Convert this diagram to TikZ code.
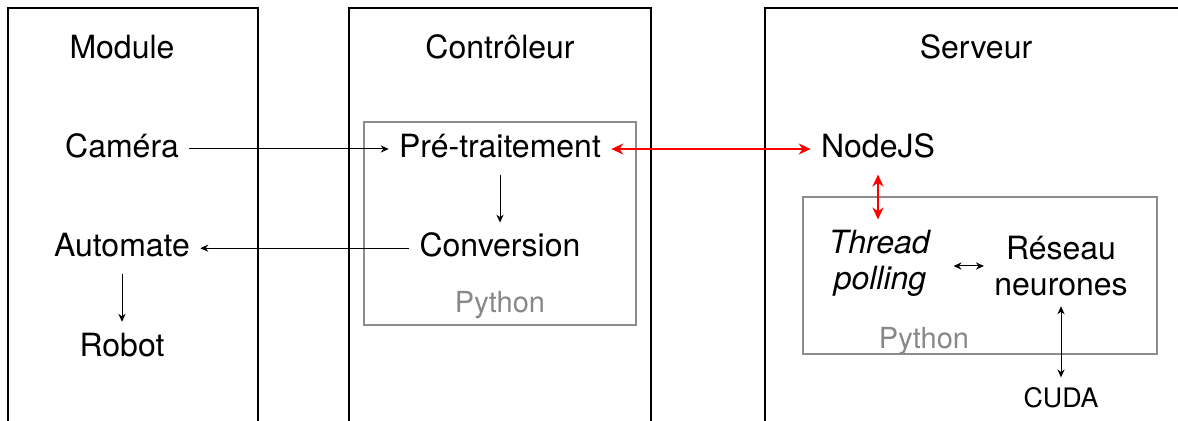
\documentclass[tikz,border=0pt]{standalone}
\usepackage{fontspec}
\setmainfont{TeX Gyre Heros}
\usetikzlibrary{positioning, arrows.meta}
\definecolor{pyframe}{HTML}{8C8C8C}
\definecolor{pytext}{HTML}{888888}

\begin{document}
\begin{tikzpicture}[x=0.5pt, y=-0.5pt, node distance=24pt,
    lbl/.style={font=\fontsize{16}{18}\selectfont, inner sep=5pt},
    item/.style={lbl, text height=12pt, text depth=3.2pt},
    pylbl/.style={font=\fontsize{14.5}{16}\selectfont, text=pytext, inner sep=0pt},
    link/.style={-{Stealth[length=4pt, width=3.6pt]}, line width=0.5pt},
    wire/.style={{Stealth[length=4pt, width=3.6pt]}-{Stealth[length=4pt, width=3.6pt]}, line width=0.5pt},
    redwire/.style={{Stealth[length=6pt, width=5.5pt]}-{Stealth[length=6pt, width=5.5pt]}, red, line width=1pt}]
        \useasboundingbox (0,0) rectangle (1178,421);
        % columns
        \draw[line width=0.6pt] (8,421) |- (258,8) -- (258,421);
        \draw[line width=0.6pt] (349,421) |- (651,8) -- (651,421);
        \draw[line width=0.6pt] (765,421) |- (1178,8);
        % python frames
        \draw[pyframe, line width=0.7pt] (364,122) rectangle (636,325);
        \draw[pyframe, line width=0.7pt] (803,197) rectangle (1157,354);
        % module
        \node[item] (module) at (122,50) {Module};
        \node[item] (camera) at (122,149) {Caméra};
        \node[item, below=of camera] (automate) {Automate};
        \node[item, below=of automate] (robot) {Robot};
        % controleur
        \node[item] (controleur) at (500,50) {Contrôleur};
        \node[item] (pretrait) at (500,149) {Pré-traitement};
        \node[item, below=of pretrait] (conversion) {Conversion};
        \node[pylbl] (pyctrl) at (500,305) {Python};
        % serveur
        \node[item] (serveur) at (976,50) {Serveur};
        \node[item] (nodejs) at (878,149) {NodeJS};
        \node[lbl, align=center] (thread) at (880,263) {\textit{Thread}\\\textit{polling}};
        \node[lbl, align=center] (reseau) at (1061,266) {Réseau\\neurones};
        \node[pylbl] (pyserv) at (924,341) {Python};
        \node[font=\fontsize{13.4}{15}\selectfont, inner sep=5pt] (cuda) at (1061,398) {CUDA};
        % links
        \draw[link] (camera) -- (pretrait);
        \draw[link] (pretrait) -- (conversion);
        \draw[link] (conversion) -- (automate);
        \draw[link] (automate) -- (robot);
        \draw[redwire] (pretrait) -- (nodejs);
        \draw[redwire] (nodejs.south) -- (nodejs.south |- thread.north);
        \draw[wire, shorten <=6pt] (thread.east |- reseau.west) -- (reseau.west);
        \draw[wire] (reseau) -- (cuda);
      \end{tikzpicture}
\end{document}
